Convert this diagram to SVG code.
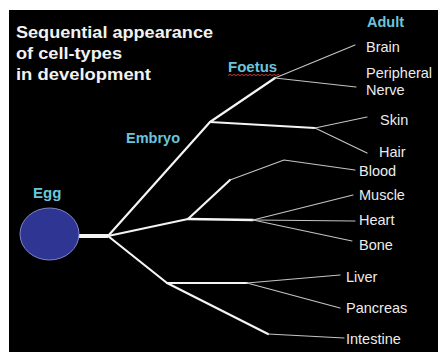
<svg xmlns="http://www.w3.org/2000/svg" width="438" height="352" viewBox="0 0 438 352">
<style>
.bg{fill:#000}
.title{font-family:"Liberation Sans",Arial,sans-serif;font-weight:bold;font-size:16px;fill:#f2f2f2}
.stage{font-family:"Liberation Sans",Arial,sans-serif;font-weight:bold;font-size:14.5px;fill:#6cc4dc}
.lbl{font-family:"Liberation Sans",Arial,sans-serif;font-size:14.5px;fill:#ececec}
.thick{fill:none;stroke:#f4f4f4;stroke-width:2.2;stroke-linejoin:round;stroke-linecap:round}
.thin{fill:none;stroke:#c4c4c4;stroke-width:1.2;stroke-linejoin:round;stroke-linecap:round}
</style>
<rect x="0" y="0" width="438" height="352" fill="#fff"/>
<rect class="bg" x="9" y="10" width="429" height="342"/>
<g id="title">
<text class="title" x="16" y="38" textLength="197" lengthAdjust="spacingAndGlyphs">Sequential appearance</text>
<text class="title" x="16" y="59" textLength="106" lengthAdjust="spacingAndGlyphs">of cell-types</text>
<text class="title" x="16" y="80" textLength="135" lengthAdjust="spacingAndGlyphs">in development</text>
</g>
<g id="connectors">
<line x1="78" y1="236" x2="108" y2="236" stroke="#f4f4f4" stroke-width="4"/>
<polyline class="thick" points="108,236 210,122 275,78"/>
<polyline class="thick" points="210,122 315,128"/>
<polyline class="thin" points="275,78 355,45"/>
<polyline class="thin" points="275,78 356,87"/>
<polyline class="thin" points="315,128 367,117"/>
<polyline class="thin" points="315,128 367,153"/>
<polyline class="thick" points="108,236 188,219 230,180"/>
<polyline class="thin" points="230,180 284,160 355,170"/>
<polyline class="thick" points="188,219 253,220" style="stroke-width:2.6"/>
<polyline class="thin" points="253,220 353,195"/>
<polyline class="thin" points="253,220 355,221"/>
<polyline class="thin" points="253,220 352,241"/>
<polyline class="thick" points="108,236 167,283 247,283"/>
<polyline class="thin" points="247,283 340,275"/>
<polyline class="thin" points="247,283 340,308"/>
<polyline class="thick" points="167,283 268,334"/>
<polyline class="thin" points="268,334 344,338"/>
</g>
<g id="egg">
<ellipse cx="49.5" cy="234" rx="29.5" ry="26" fill="#2f3592" stroke="#7f86c8" stroke-width="1"/>
<text class="stage" x="33" y="198" style="font-size:15px">Egg</text>
</g>
<g id="embryo">
<text class="stage" x="126" y="143">Embryo</text>
</g>
<g id="foetus">
<text class="stage" x="228" y="72" style="font-size:15px">Foetus</text>
<polyline points="228,75.5 230,74.5 232,75.5 234,74.5 236,75.5 238,74.5 240,75.5 242,74.5 244,75.5 246,74.5 248,75.5 250,74.5 252,75.5 254,74.5 256,75.5 258,74.5 260,75.5 262,74.5 264,75.5 266,74.5 268,75.5 270,74.5 272,75.5 274,74.5 276,75.5 278,74.5 280,75.5" fill="none" stroke="#c83a3a" stroke-width="1"/>
</g>
<g id="adult">
<text class="stage" x="367" y="27">Adult</text>
</g>
<g id="brain"><text class="lbl" x="366" y="52">Brain</text></g>
<g id="peripheral-nerve"><text class="lbl" x="366" y="78">Peripheral</text><text class="lbl" x="366" y="94.5">Nerve</text></g>
<g id="skin"><text class="lbl" x="380" y="125">Skin</text></g>
<g id="hair"><text class="lbl" x="379" y="157">Hair</text></g>
<g id="blood"><text class="lbl" x="359" y="176">Blood</text></g>
<g id="muscle"><text class="lbl" x="359" y="200">Muscle</text></g>
<g id="heart"><text class="lbl" x="359" y="225">Heart</text></g>
<g id="bone"><text class="lbl" x="359" y="250">Bone</text></g>
<g id="liver"><text class="lbl" x="346" y="282">Liver</text></g>
<g id="pancreas"><text class="lbl" x="346" y="313">Pancreas</text></g>
<g id="intestine"><text class="lbl" x="346" y="344">Intestine</text></g>
</svg>
